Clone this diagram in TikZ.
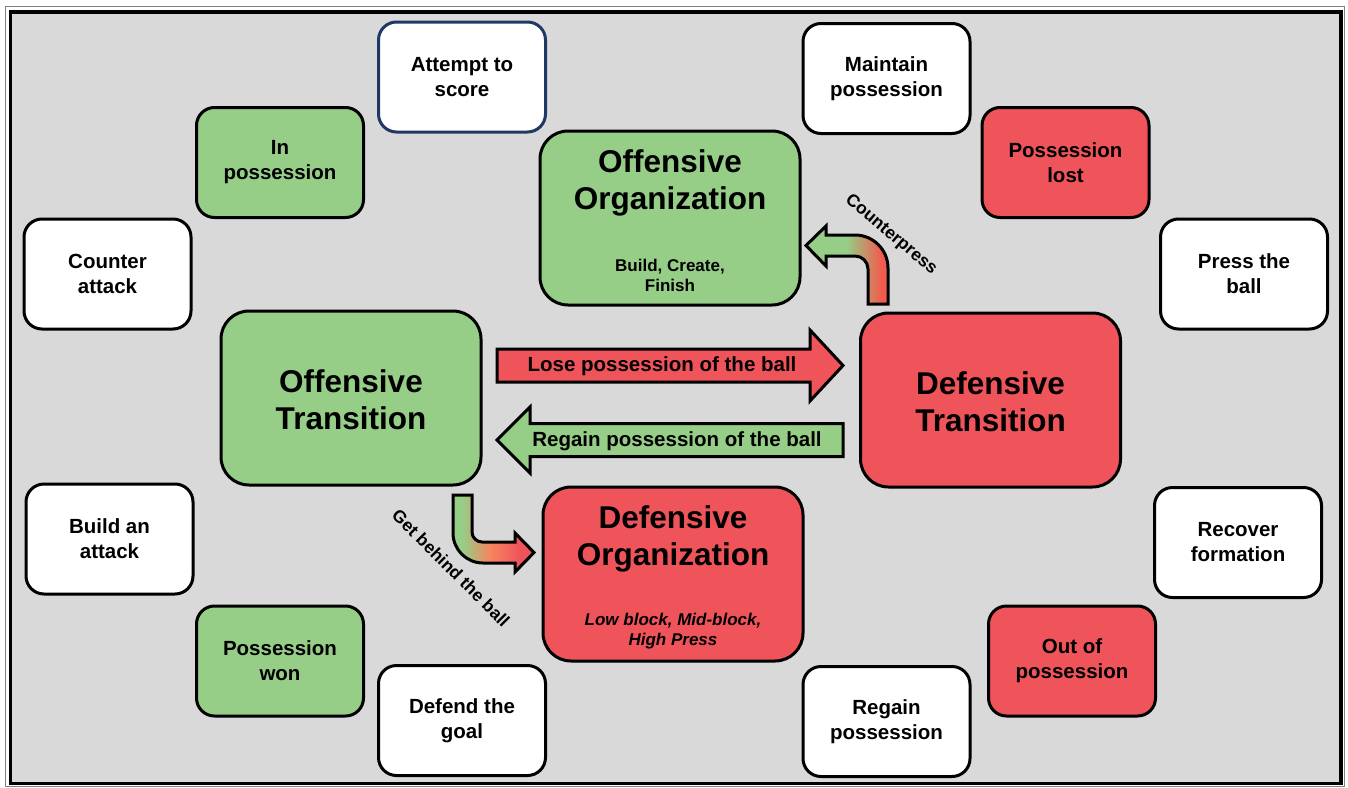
\documentclass[tikz,border=0pt]{standalone}
\usepackage{fontspec}
\setmainfont{Liberation Sans}
\usetikzlibrary{calc}

\definecolor{pitchgrey}{HTML}{D9D9D9}
\definecolor{ingreen}{HTML}{96CD87}
\definecolor{outred}{HTML}{EF545A}
\definecolor{navyline}{HTML}{1F3864}

% colour runs for the two bent arrows
\pgfdeclarehorizontalshading{cpshade}{100bp}{color(0bp)=(ingreen); color(50bp)=(ingreen); color(71bp)=(outred!85!orange); color(100bp)=(outred)}
\pgfdeclarehorizontalshading{gbshade}{100bp}{color(0bp)=(ingreen); color(31bp)=(ingreen); color(48bp)=(orange!40!outred!80!white); color(66bp)=(outred); color(100bp)=(outred)}

\tikzset{
  phase/.style={draw=black, line width=3pt, rounded corners=18pt,
    minimum width=167pt, minimum height=110pt, align=center,
    font=\fontsize{20.5}{25}\selectfont\bfseries},
  hub/.style={draw=black, line width=3pt, rounded corners=28pt,
    minimum width=260pt, minimum height=174pt},
  hubtitle/.style={align=center, font=\fontsize{31.5}{37}\selectfont\bfseries},
  hubsub/.style={align=center, font=\fontsize{17}{20}\selectfont\bfseries},
  blockarrow/.style={draw=black, line width=3pt, line join=miter},
  arrowtext/.style={font=\fontsize{20.5}{24}\selectfont\bfseries},
  slanttext/.style={font=\fontsize{17.5}{20}\selectfont\bfseries},
}

\begin{document}
\begin{tikzpicture}[x=1pt, y=-1pt]
% canvas and frame
\useasboundingbox (0,0) rectangle (1348,787);
\fill[white] (0,0) rectangle (1348,787);
\draw[gray, line width=1pt] (5,6) rectangle (1344,786);
\draw[black, line width=3.5pt, fill=pitchgrey] (10.5,12) rectangle (1341,783.5);

% four hub phases
\node[hub, fill=ingreen] (offorg) at (670,218) {};
\node[hubtitle] at (670,183) {Offensive\\Organization};
\node[hubsub] at (670,275) {Build, Create,\\Finish};

\node[hub, fill=ingreen] (offtrans) at (351,398) {};
\node[hubtitle] at (351,400) {Offensive\\Transition};

\node[hub, fill=outred] (deftrans) at (990.5,400) {};
\node[hubtitle] at (990.5,402) {Defensive\\Transition};

\node[hub, fill=outred] (deforg) at (673,574) {};
\node[hubtitle] at (673,539) {Defensive\\Organization};
\node[hubsub, font=\fontsize{17}{20}\selectfont\bfseries\itshape] at (673,631) {Low block, Mid-block,\\High Press};

% surrounding moments of the game
\node[phase, fill=white, draw=navyline] (attempt) at (462,77) {Attempt to\\score};
\node[phase, fill=white] (maintain) at (886.5,78.5) {Maintain\\possession};
\node[phase, fill=ingreen] (inposs) at (280,162.5) {In\\possession};
\node[phase, fill=outred] (posslost) at (1065.5,162.5) {Possession\\lost};
\node[phase, fill=white] (counter) at (107.5,274) {Counter\\attack};
\node[phase, fill=white] (press) at (1244,274) {Press the\\ball};
\node[phase, fill=white] (build) at (109.5,539) {Build an\\attack};
\node[phase, fill=white] (recover) at (1238,542.5) {Recover\\formation};
\node[phase, fill=ingreen] (posswon) at (280,661) {Possession\\won};
\node[phase, fill=outred] (outposs) at (1072,661) {Out of\\possession};
\node[phase, fill=white] (defend) at (462,720.5) {Defend the\\goal};
\node[phase, fill=white] (regain) at (886.5,721.5) {Regain\\possession};

% block arrows between the transitions
\draw[blockarrow, fill=outred] (497,349) -- (810,349) -- (810,330) -- (843,365.5)
  -- (810,401) -- (810,382) -- (497,382) -- cycle;
\node[arrowtext] (losetxt) at (662,366) {Lose possession of the ball};

\draw[blockarrow, fill=ingreen] (843,423.5) -- (530,423.5) -- (530,407) -- (497,440)
  -- (530,473) -- (530,456.5) -- (843,456.5) -- cycle;
\node[arrowtext] (regaintxt) at (677,441) {Regain possession of the ball};

% bent arrow: counterpress
\draw[blockarrow, shading=cpshade]
  (888,304) -- (888,268) .. controls (888,249.8) and (873.2,235) .. (855,235)
  -- (826,235) -- (826,226) -- (806,245.5) -- (826,266) -- (826,256) -- (855,256)
  .. controls (862.2,256) and (868,261.8) .. (868,269) -- (868,304) -- cycle;
\node[slanttext, rotate=-40] (cptxt) at (891,235) {Counterpress};

% bent arrow: get behind the ball
\draw[blockarrow, shading=gbshade]
  (453,495) -- (472,495) -- (472,532) .. controls (472,537.5) and (476.5,542) .. (482,542)
  -- (515,542) -- (515,533) -- (534,552.5) -- (515,572) -- (515,563) -- (483,563)
  .. controls (466.4,563) and (453,549.6) .. (453,533) -- cycle;
\node[slanttext, rotate=-45] (gbtxt) at (451,568) {Get behind the ball};
\end{tikzpicture}
\end{document}
